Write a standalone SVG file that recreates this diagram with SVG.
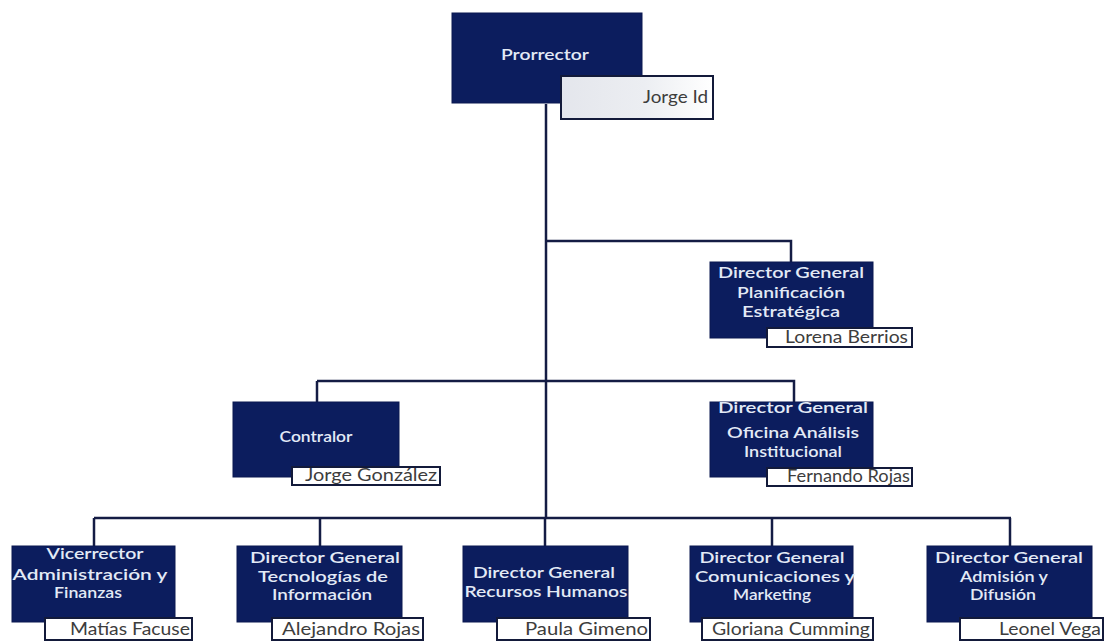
<svg xmlns="http://www.w3.org/2000/svg" width="1106" height="642" viewBox="0 0 1106 642">
  <defs>
    <linearGradient id="nameFill" x1="0" y1="0" x2="1" y2="0">
      <stop offset="0" stop-color="#e4e6ec"/>
      <stop offset="0.55" stop-color="#eceef2"/>
      <stop offset="1" stop-color="#ffffff"/>
    </linearGradient>
  </defs>
  <style>
    .box { fill: #0c1d5e; stroke: #0a1850; stroke-width: 1; }
    .name { fill: #ffffff; stroke: #131a3a; stroke-width: 2; }
    text { font-family: Lato, "Open Sans", sans-serif; font-size: 16px; font-weight: 600; }
    .title { fill: #e3eaf6; text-anchor: middle; }
    .person { fill: #3d3d3d; text-anchor: end; font-weight: 400; font-size: 16.5px; }
    .wire { fill: none; stroke: #141c44; stroke-width: 2.5; }
  </style>
  <rect width="1106" height="642" fill="#ffffff"/>

  <!-- connectors -->
  <g id="connectors">
    <path class="wire" d="M546 104 V518"/>
    <path class="wire" d="M546 241 H791 V262"/>
    <path class="wire" d="M317 381 H794 V402"/>
    <path class="wire" d="M317 381 V402"/>
    <path class="wire" d="M94 518 H1011"/>
    <path class="wire" d="M94 518 V546"/>
    <path class="wire" d="M320 518 V546"/>
    <path class="wire" d="M545 518 V546"/>
    <path class="wire" d="M772 518 V546"/>
    <path class="wire" d="M1010 518 V546"/>
  </g>

  <g id="prorrector">
    <rect class="box" x="452" y="13" width="190" height="90"/>
    <text class="title" x="545" y="60" textLength="88" lengthAdjust="spacingAndGlyphs">Prorrector</text>
    <rect x="561" y="76" width="152" height="43" fill="url(#nameFill)" stroke="#131a3a" stroke-width="2"/>
    <text class="person" x="708" y="103" textLength="65" lengthAdjust="spacingAndGlyphs">Jorge Id</text>
  </g>

  <g id="planificacion">
    <rect class="box" x="710" y="262" width="163" height="76"/>
    <text class="title" x="791" y="278" textLength="146" lengthAdjust="spacingAndGlyphs">Director General</text>
    <text class="title" x="791" y="298" textLength="108" lengthAdjust="spacingAndGlyphs">Planificación</text>
    <text class="title" x="791" y="317" textLength="98" lengthAdjust="spacingAndGlyphs">Estratégica</text>
    <rect class="name" x="767" y="328" width="145" height="19"/>
    <text class="person" x="908" y="343" textLength="123" lengthAdjust="spacingAndGlyphs">Lorena Berrios</text>
  </g>

  <g id="contralor">
    <rect class="box" x="233" y="402" width="166" height="75"/>
    <text class="title" x="316" y="442" textLength="73" lengthAdjust="spacingAndGlyphs">Contralor</text>
    <rect class="name" x="292" y="467" width="148" height="18"/>
    <text class="person" x="437" y="481" textLength="132" lengthAdjust="spacingAndGlyphs">Jorge González</text>
  </g>

  <g id="analisis">
    <rect class="box" x="710" y="402" width="163" height="75"/>
    <text class="title" x="793" y="413" textLength="150" lengthAdjust="spacingAndGlyphs">Director General</text>
    <text class="title" x="793" y="438" textLength="132" lengthAdjust="spacingAndGlyphs">Oficina Análisis</text>
    <text class="title" x="793" y="457" textLength="98" lengthAdjust="spacingAndGlyphs">Institucional</text>
    <rect class="name" x="767" y="468" width="145" height="18"/>
    <text class="person" x="910" y="482" textLength="123" lengthAdjust="spacingAndGlyphs">Fernando Rojas</text>
  </g>

  <g id="vicerrector">
    <rect class="box" x="12" y="546" width="163" height="76"/>
    <text class="title" x="95" y="559" textLength="97" lengthAdjust="spacingAndGlyphs">Vicerrector</text>
    <text class="title" x="90" y="580" textLength="155" lengthAdjust="spacingAndGlyphs">Administración y</text>
    <text class="title" x="88" y="598" textLength="68" lengthAdjust="spacingAndGlyphs">Finanzas</text>
    <rect class="name" x="45" y="618" width="147" height="22"/>
    <text class="person" x="190" y="635" textLength="120" lengthAdjust="spacingAndGlyphs">Matías Facuse</text>
  </g>

  <g id="tecnologias">
    <rect class="box" x="237" y="546" width="165" height="76"/>
    <text class="title" x="325" y="563" textLength="150" lengthAdjust="spacingAndGlyphs">Director General</text>
    <text class="title" x="323" y="582" textLength="130" lengthAdjust="spacingAndGlyphs">Tecnologías de</text>
    <text class="title" x="322" y="600" textLength="100" lengthAdjust="spacingAndGlyphs">Información</text>
    <rect class="name" x="272" y="618" width="151" height="22"/>
    <text class="person" x="420" y="635" textLength="138" lengthAdjust="spacingAndGlyphs">Alejandro Rojas</text>
  </g>

  <g id="recursos">
    <rect class="box" x="463" y="546" width="165" height="76"/>
    <text class="title" x="544" y="578" textLength="142" lengthAdjust="spacingAndGlyphs">Director General</text>
    <text class="title" x="546" y="597" textLength="163" lengthAdjust="spacingAndGlyphs">Recursos Humanos</text>
    <rect class="name" x="497" y="618" width="153" height="22"/>
    <text class="person" x="648" y="635" textLength="123" lengthAdjust="spacingAndGlyphs">Paula Gimeno</text>
  </g>

  <g id="comunicaciones">
    <rect class="box" x="690" y="546" width="163" height="76"/>
    <text class="title" x="772" y="563" textLength="145" lengthAdjust="spacingAndGlyphs">Director General</text>
    <text class="title" x="775" y="582" textLength="160" lengthAdjust="spacingAndGlyphs">Comunicaciones y</text>
    <text class="title" x="772" y="600" textLength="78" lengthAdjust="spacingAndGlyphs">Marketing</text>
    <rect class="name" x="702" y="618" width="171" height="22"/>
    <text class="person" x="870" y="635" textLength="158" lengthAdjust="spacingAndGlyphs">Gloriana Cumming</text>
  </g>

  <g id="admision">
    <rect class="box" x="927" y="546" width="165" height="76"/>
    <text class="title" x="1009" y="563" textLength="148" lengthAdjust="spacingAndGlyphs">Director General</text>
    <text class="title" x="1004" y="582" textLength="88" lengthAdjust="spacingAndGlyphs">Admisión y</text>
    <text class="title" x="1003" y="600" textLength="66" lengthAdjust="spacingAndGlyphs">Difusión</text>
    <rect class="name" x="960" y="618" width="143" height="22"/>
    <text class="person" x="1101" y="635" textLength="102" lengthAdjust="spacingAndGlyphs">Leonel Vega</text>
  </g>
</svg>
